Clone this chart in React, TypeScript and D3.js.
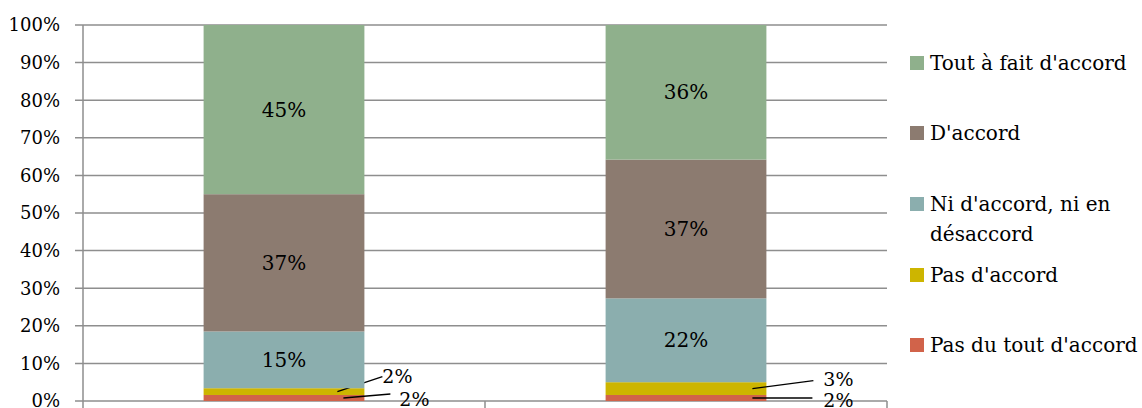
import React from "react";
import * as d3 from "d3";

const categories = ["A", "B"];
const seriesNames = [
  "Pas du tout d'accord",
  "Pas d'accord",
  "Ni d'accord, ni en désaccord",
  "D'accord",
  "Tout à fait d'accord",
];
const pasDuTout = [1.6, 1.6];
const pasDaccord = [1.8, 3.4];
const niNi = [15.1, 22.3];
const daccord = [36.5, 36.9];
const toutAFait = [45.0, 35.8];
const yTicks = [0, 10, 20, 30, 40, 50, 60, 70, 80, 90, 100];
const colors = ["#D1634A", "#CDB500", "#8BAEAE", "#8C7B70", "#8FB08C"];

const W = 1142;
const H = 408;
const FONT = "'DejaVu Serif', serif";

// leader label placements (dx from bar right edge, dy from segment middle)
const outsideLabels: Record<string, { lx0: number; lx1: number; ly1: number; tx: number; ty: number }[]> = {
  "0-0": [{ lx0: -21, lx1: 26, ly1: -4, tx: 50, ty: 1 }],
  "0-1": [{ lx0: -27, lx1: 18, ly1: -15, tx: 33, ty: -15 }],
  "1-0": [{ lx0: -14, lx1: 46, ly1: 0, tx: 72, ty: 2 }],
  "1-1": [{ lx0: -14, lx1: 47, ly1: -8, tx: 72, ty: -9 }],
};

export default function App() {
  const series = [pasDuTout, pasDaccord, niNi, daccord, toutAFait];
  const rows = categories.map((c, i) => {
    const r: any = { cat: c };
    series.forEach((s, k) => (r["s" + k] = s[i]));
    return r;
  });
  const keys = series.map((_, k) => "s" + k);
  const stacked = d3.stack<any>().keys(keys)(rows);

  const left = 83, right = 887, top = 25, bottom = 401;
  const x = d3.scaleBand<string>().domain(categories).range([left, right]).paddingInner(0.6).paddingOuter(0.3);
  const band = d3.scaleBand<string>().domain(categories).range([left, right]);
  const y = d3.scaleLinear().domain([0, 100]).range([bottom, top]);

  const legendOrder = [4, 3, 2, 1, 0];
  const legendY = [63, 133, 204, 275, 345];

  return (
    <svg width={W} height={H} style={{ position: "absolute", left: 0, top: 0, background: "#fff" }}>
      {yTicks.map((t) => (
        <g key={t}>
          <line x1={left - 8} x2={right} y1={y(t)} y2={y(t)} stroke="#8e8e8e" strokeWidth={1.5} />
          <text x={60} y={y(t)} dy="0.35em" textAnchor="end" fontFamily={FONT} fontSize={18} fill="#000">
            {t}%
          </text>
        </g>
      ))}
      <line x1={left} x2={left} y1={top} y2={H} stroke="#8e8e8e" strokeWidth={1.5} />
      {categories.map((c) => (
        <line key={c} x1={band(c)! + band.bandwidth()} x2={band(c)! + band.bandwidth()} y1={bottom} y2={H} stroke="#8e8e8e" strokeWidth={1.5} />
      ))}
      {stacked.map((layer, k) => (
        <g key={k}>
          {layer.map((d, i) => {
            const c = categories[i];
            const y0 = y(d[0]);
            const y1 = y(d[1]);
            const val = series[k][i];
            const label = Math.round(val) + "%";
            const mid = (y0 + y1) / 2;
            const bx = x(c)!;
            const br = bx + x.bandwidth();
            const out = outsideLabels[i + "-" + k];
            return (
              <g key={i}>
                <rect x={bx} y={y1} width={x.bandwidth()} height={y0 - y1} fill={colors[k]} />
                {!out && (
                  <text x={bx + x.bandwidth() / 2} y={mid} dy="0.35em" textAnchor="middle" fontFamily={FONT} fontSize={20} fill="#000">
                    {label}
                  </text>
                )}
                {out &&
                  out.map((o, j) => (
                    <g key={j}>
                      <line x1={br + o.lx0} y1={mid} x2={br + o.lx1} y2={mid + o.ly1} stroke="#000" strokeWidth={1.3} />
                      <text x={br + o.tx} y={mid + o.ty} dy="0.35em" textAnchor="middle" fontFamily={FONT} fontSize={19} fill="#000">
                        {label}
                      </text>
                    </g>
                  ))}
              </g>
            );
          })}
        </g>
      ))}
      {legendOrder.map((k, i) => {
        const name = seriesNames[k];
        const lines = k === 2 ? ["Ni d'accord, ni en", "désaccord"] : [name];
        return (
          <g key={k}>
            <rect x={910} y={legendY[i] - 7} width={14} height={14} fill={colors[k]} />
            {lines.map((ln, j) => (
              <text key={j} x={930} y={legendY[i] + j * 30} dy="0.35em" fontFamily={FONT} fontSize={20} fill="#000">
                {ln}
              </text>
            ))}
          </g>
        );
      })}
    </svg>
  );
}
